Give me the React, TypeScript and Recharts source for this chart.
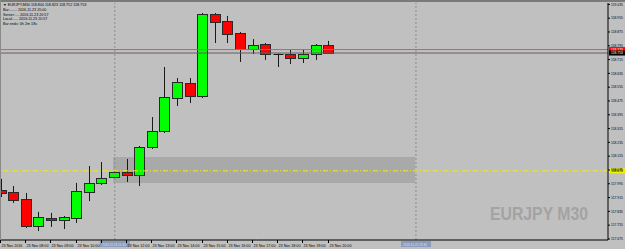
import React from "react";
import { ComposedChart, Bar, XAxis, YAxis, ReferenceLine, ReferenceArea } from "recharts";

// ---- data ----
const barIndex = [0, 1, 2, 3, 4, 5, 6, 7, 8, 9, 10, 11, 12, 13, 14, 15, 16, 17, 18, 19, 20, 21, 22, 23, 24, 25, 26];
const opens = [117.959, 117.947, 117.907, 117.75, 117.797, 117.785, 117.797, 117.947, 118.0, 118.034, 118.063, 118.046, 118.208, 118.301, 118.492, 118.579, 118.504, 118.979, 118.939, 118.869, 118.776, 118.805, 118.747, 118.747, 118.724, 118.747, 118.8];
const highs = [118.023, 117.982, 117.942, 117.832, 117.826, 117.808, 118.0, 118.098, 118.121, 118.069, 118.139, 118.214, 118.382, 118.672, 118.608, 118.608, 118.985, 118.985, 118.968, 118.875, 118.834, 118.811, 118.75, 118.771, 118.776, 118.805, 118.823];
const lows = [117.918, 117.884, 117.739, 117.721, 117.745, 117.733, 117.768, 117.895, 117.988, 118.029, 118.005, 117.982, 118.197, 118.289, 118.446, 118.463, 118.492, 118.811, 118.811, 118.701, 118.747, 118.713, 118.672, 118.689, 118.695, 118.713, 118.752];
const closes = [117.942, 117.901, 117.75, 117.803, 117.785, 117.803, 117.953, 118.0, 118.029, 118.063, 118.046, 118.208, 118.301, 118.498, 118.585, 118.504, 118.979, 118.933, 118.863, 118.776, 118.8, 118.747, 118.747, 118.724, 118.747, 118.8, 118.753];

const timeTickIndex = [0, 2, 4, 6, 8, 10, 12, 14, 16, 18, 20, 22, 24, 26];
const timeTickLabels = [
  "23 Nov 2016", "23 Nov 08:00", "23 Nov 09:00", "23 Nov 10:00", "23 Nov 11:00", "23 Nov 12:00",
  "23 Nov 13:00", "23 Nov 14:00", "23 Nov 15:00", "23 Nov 16:00", "23 Nov 17:00", "23 Nov 18:00",
  "23 Nov 19:00", "23 Nov 20:00",
];
const priceTicks = [
  117.675, 117.755, 117.835, 117.915, 117.995, 118.075, 118.155, 118.235, 118.315,
  118.395, 118.475, 118.555, 118.635, 118.715, 118.795, 118.875, 118.955, 119.035,
];
const priceDomain = [117.669, 119.043];
const slotDomain = [-0.111, 48.14];

const bidPrice = 118.753;
const askPrice = 118.773;
const levelPrice = 118.07;
const zoneLow = 118.0;
const zoneHigh = 118.15;
const zoneStart = 8.86;
const zoneEnd = 32.83;
const markerSlots = [9.0, 32.9];
const markerLabels = ["2016.11.23 11:30", "2016.11.23 23:30"];

const headerLines = [
  "\u25BC EURJPY,M30  118.800 118.823 118.752 118.753",
  "Bar:.......  2016.11.23 20:00",
  "Server:....  2016.11.23 20:57",
  "Local:.....  2016.11.23 20:57",
  "Bar ends:  0h 2m 18s",
];

const data = barIndex.map((i, k) => ({
  i,
  range: [lows[k], highs[k]],
  o: opens[k],
  h: highs[k],
  l: lows[k],
  c: closes[k],
}));

const BG = "#c0c0c0";
const FONT = "'Liberation Sans', Arial, sans-serif";

const Candle = (props: any) => {
  const { x, y, width, height, payload } = props;
  if (x == null || y == null) return null;
  const top = Math.min(y, y + height);
  const hgt = Math.abs(height);
  const { o, h, l, c } = payload;
  const per = h - l > 0 ? hgt / (h - l) : 0;
  const yOf = (v: number) => top + (h - v) * per;
  const cx = Math.floor(x + width / 2) + 0.5;
  const bodyTop = Math.round(yOf(Math.max(o, c)));
  const bodyBot = Math.round(yOf(Math.min(o, c)));
  const bull = c > o;
  const doji = Math.abs(c - o) < 0.0005;
  return (
    <g>
      <line x1={cx} x2={cx} y1={top} y2={top + hgt} stroke="#1a1a1a" strokeWidth={1} />
      {doji ? (
        <line x1={cx - 5} x2={cx + 5} y1={bodyTop + 0.5} y2={bodyTop + 0.5} stroke="#1a1a1a" strokeWidth={1} />
      ) : (
        <rect
          x={cx - 5}
          y={bodyTop + 0.5}
          width={10}
          height={Math.max(1, bodyBot - bodyTop)}
          fill={bull ? "#00ff00" : "#ff0000"}
          stroke="#2a2a2a"
          strokeWidth={1}
        />
      )}
    </g>
  );
};

const XTick = (props: any) => {
  const { x, y, payload } = props;
  const idx = timeTickIndex.indexOf(payload.value);
  const label = idx >= 0 ? timeTickLabels[idx] : "";
  // a label that sits under a marker tag (hidden in the reference) is not drawn
  const hidden = markerSlots.some((s) => payload.value <= s && s - payload.value <= 1.5);
  const tx = Math.floor(x) - 0.5;
  return (
    <g>
      <line x1={tx} x2={tx} y1={y} y2={y + 3} stroke="#000" strokeWidth={1} />
      {!hidden && (
        <text x={tx + 1} y={y + 6.5} fontSize={3.7} fontFamily={FONT} fill="#000">
          {label}
        </text>
      )}
    </g>
  );
};

const YTick = (props: any) => {
  const { x, y, payload } = props;
  return (
    <g>
      <line x1={x} x2={x + 2} y1={y} y2={y} stroke="#000" strokeWidth={1} />
      <text x={x + 3} y={y + 1.3} fontSize={3.4} fontFamily={FONT} fill="#000">
        {payload.value.toFixed(3)}
      </text>
    </g>
  );
};

const priceTag = (value: number, bg: string, fg: string) => (p: any) => {
  const vb = p.viewBox || {};
  const xr = (vb.x || 0) + (vb.width || 0);
  const yy = vb.y || 0;
  return (
    <g>
      <rect x={xr + 1} y={yy - 2.5} width={17} height={5} fill={bg} />
      <text x={xr + 3} y={yy + 1.4} fontSize={3.4} fontFamily={FONT} fill={fg}>
        {value.toFixed(3)}
      </text>
    </g>
  );
};

const timeTag = (text: string) => (p: any) => {
  const vb = p.viewBox || {};
  const xx = vb.x || 0;
  const yb = (vb.y || 0) + (vb.height || 0);
  return (
    <g>
      <rect x={xx - 15} y={yb + 1} width={30} height={6} fill="#8a9bbd" />
      <text x={xx - 1} y={yb + 5.5} fontSize={3.1} fontFamily={FONT} fill="#dde4f0" textAnchor="middle">
        {text}
      </text>
    </g>
  );
};

export default function App() {
  return (
    <div style={{ position: "fixed", left: 0, top: 0, width: 625, height: 249, background: BG, overflow: "hidden" }}>
      <ComposedChart width={625} height={249} data={data} margin={{ top: 3, right: 0, bottom: 0, left: 0 }}>
        <XAxis
          dataKey="i"
          type="number"
          domain={slotDomain}
          allowDataOverflow
          ticks={timeTickIndex}
          interval={0}
          height={9}
          tickSize={0}
          tickMargin={0}
          tickLine={false}
          axisLine={{ stroke: "#000", strokeWidth: 1 }}
          tick={<XTick />}
        />
        <YAxis
          orientation="right"
          width={17}
          domain={priceDomain}
          allowDataOverflow
          ticks={priceTicks}
          interval={0}
          tickSize={0}
          tickMargin={0}
          tickLine={false}
          axisLine={{ stroke: "#000", strokeWidth: 1 }}
          tick={<YTick />}
        />
        <ReferenceArea
          x1={zoneStart}
          x2={zoneEnd}
          y1={zoneLow}
          y2={zoneHigh}
          fill="#a9a9a9"
          fillOpacity={1}
          stroke="none"
          ifOverflow="hidden"
        />
        {markerSlots.map((s, k) => (
          <ReferenceLine
            key={k}
            x={s}
            stroke="#8c8c8c"
            strokeDasharray="2 2"
            strokeWidth={1}
            label={timeTag(markerLabels[k])}
          />
        ))}
        <ReferenceLine
          y={levelPrice}
          stroke="#f0f000"
          strokeDasharray="5 2 1 2"
          strokeWidth={1}
          label={priceTag(levelPrice, "#f0f000", "#000")}
        />
        <ReferenceLine y={askPrice} stroke="#e85050" strokeWidth={1} label={priceTag(askPrice, "#ff0000", "#fff")} />
        <ReferenceLine y={bidPrice} stroke="#606060" strokeWidth={1} label={priceTag(bidPrice, "#000", "#fff")} />
        <Bar dataKey="range" barSize={10} isAnimationActive={false} shape={<Candle />} />
      </ComposedChart>
      <svg width={625} height={249} style={{ position: "absolute", left: 0, top: 0, pointerEvents: "none" }}>
        <rect x={0} y={0} width={625} height={2} fill="#7a7a7a" />
        <rect x={0} y={0} width={1} height={240} fill="#8a8a8a" />
        {headerLines.map((t, k) => (
          <text key={k} x={3} y={6 + k * 4.8} fontSize={3.7} fontFamily={FONT} fill="#000">
            {t}
          </text>
        ))}
        <text
          x={490}
          y={220}
          fontSize={19}
          fontWeight="bold"
          fontFamily={FONT}
          fill="#a3a3a3"
          textLength={98}
          lengthAdjust="spacingAndGlyphs"
        >
          EURJPY M30
        </text>
      </svg>
    </div>
  );
}
